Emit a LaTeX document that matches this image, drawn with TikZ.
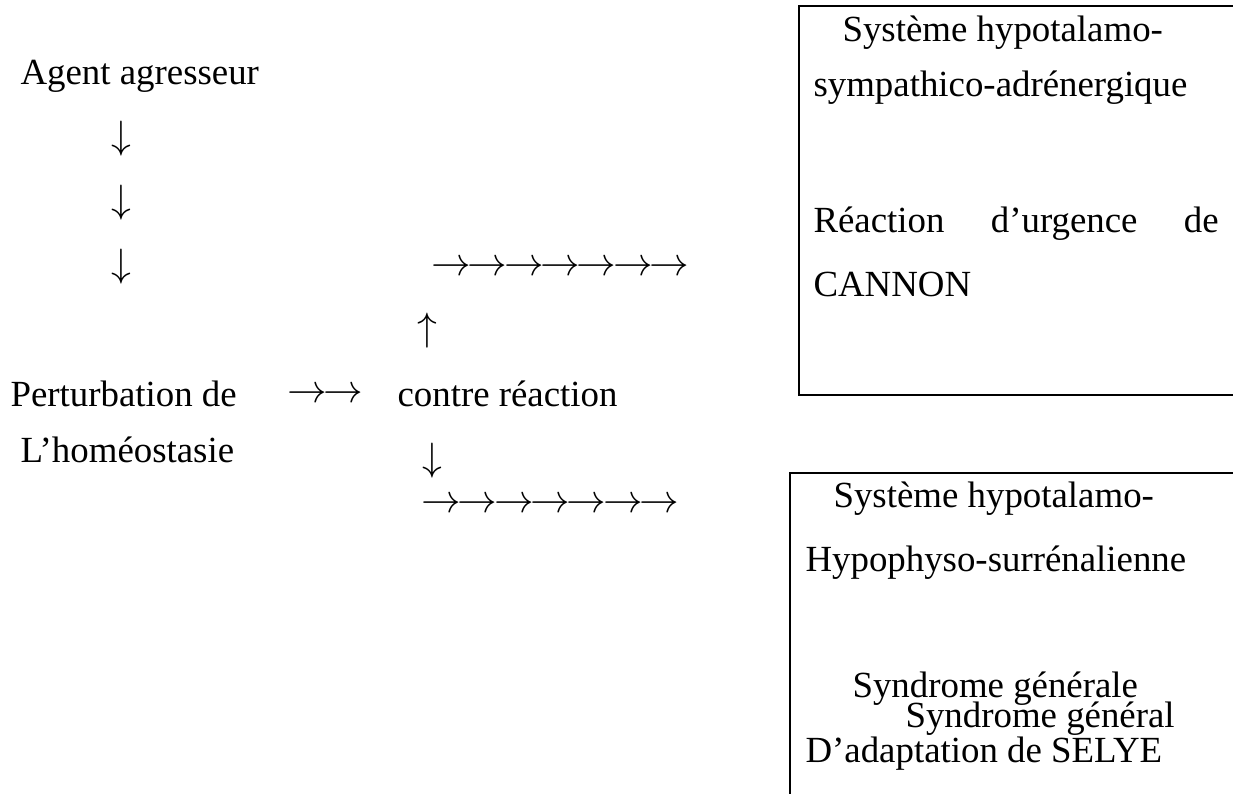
\documentclass[tikz,border=0pt]{standalone}
\usepackage{fontspec}
\setmainfont{Liberation Serif}
\tikzset{
  txt/.style={anchor=base west, inner sep=0pt, font=\fontsize{13.4}{16}\selectfont},
  arr/.style={inner sep=0pt, font=\fontsize{13.4}{16}\selectfont},
  boxline/.style={line width=0.75pt},
}
\newcommand{\ra}{\rightarrow\mkern-1.5mu}
\newcommand{\arrowrow}{$\ra\ra\ra\ra\ra\ra\rightarrow$}

\begin{document}
\begin{tikzpicture}[x=0.3636pt,y=-0.3636pt]
    \useasboundingbox (0,0) rectangle (1233,794);

    % left column
    \node[txt] (agent) at (20,85) {Agent agresseur};
    \node[arr] (down1) at (121,139) {$\downarrow$};
    \node[arr] (down2) at (121,203) {$\downarrow$};
    \node[arr] (down3) at (121,267) {$\downarrow$};
    \node[txt] (pert) at (10,407) {Perturbation de};
    \node[txt] (homeo) at (20,463) {L’homéostasie};

    % middle
    \node[arr, anchor=west] (toright) at (287,395) {$\ra\rightarrow$};
    \node[txt] (contre) at (397,407) {contre réaction};
    \node[arr] (up) at (427,331) {$\uparrow$};
    \node[arr] (down4) at (432,461) {$\downarrow$};
    \node[arr, anchor=west] (rowtop) at (431,268) {\arrowrow};
    \node[arr, anchor=west] (rowbot) at (421,505) {\arrowrow};

    % upper box
    \draw[boxline] (1233,6)--(799,6)--(799,395)--(1233,395);
    \node[txt] (sys1) at (842,42) {Système hypotalamo-};
    \node[txt] (symp) at (813,97) {sympathico-adrénergique};
    \node[txt] (reac) at (813,233) {\hbox to 147.3pt{Réaction\hfill d’urgence\hfill de}};
    \node[txt] (cannon) at (813,297) {CANNON};

    % lower box
    \draw[boxline] (1233,473)--(790,473)--(790,794);
    \node[txt] (sys2) at (833,508) {Système hypotalamo-};
    \node[txt] (hypo) at (805,572) {Hypophyso-surrénalienne};
    \node[txt] (synd1) at (852,698) {Syndrome générale};
    \node[txt] (synd2) at (905,728) {Syndrome général};
    \node[txt] (selye) at (805,763) {D’adaptation de SELYE};

\end{tikzpicture}
\end{document}
